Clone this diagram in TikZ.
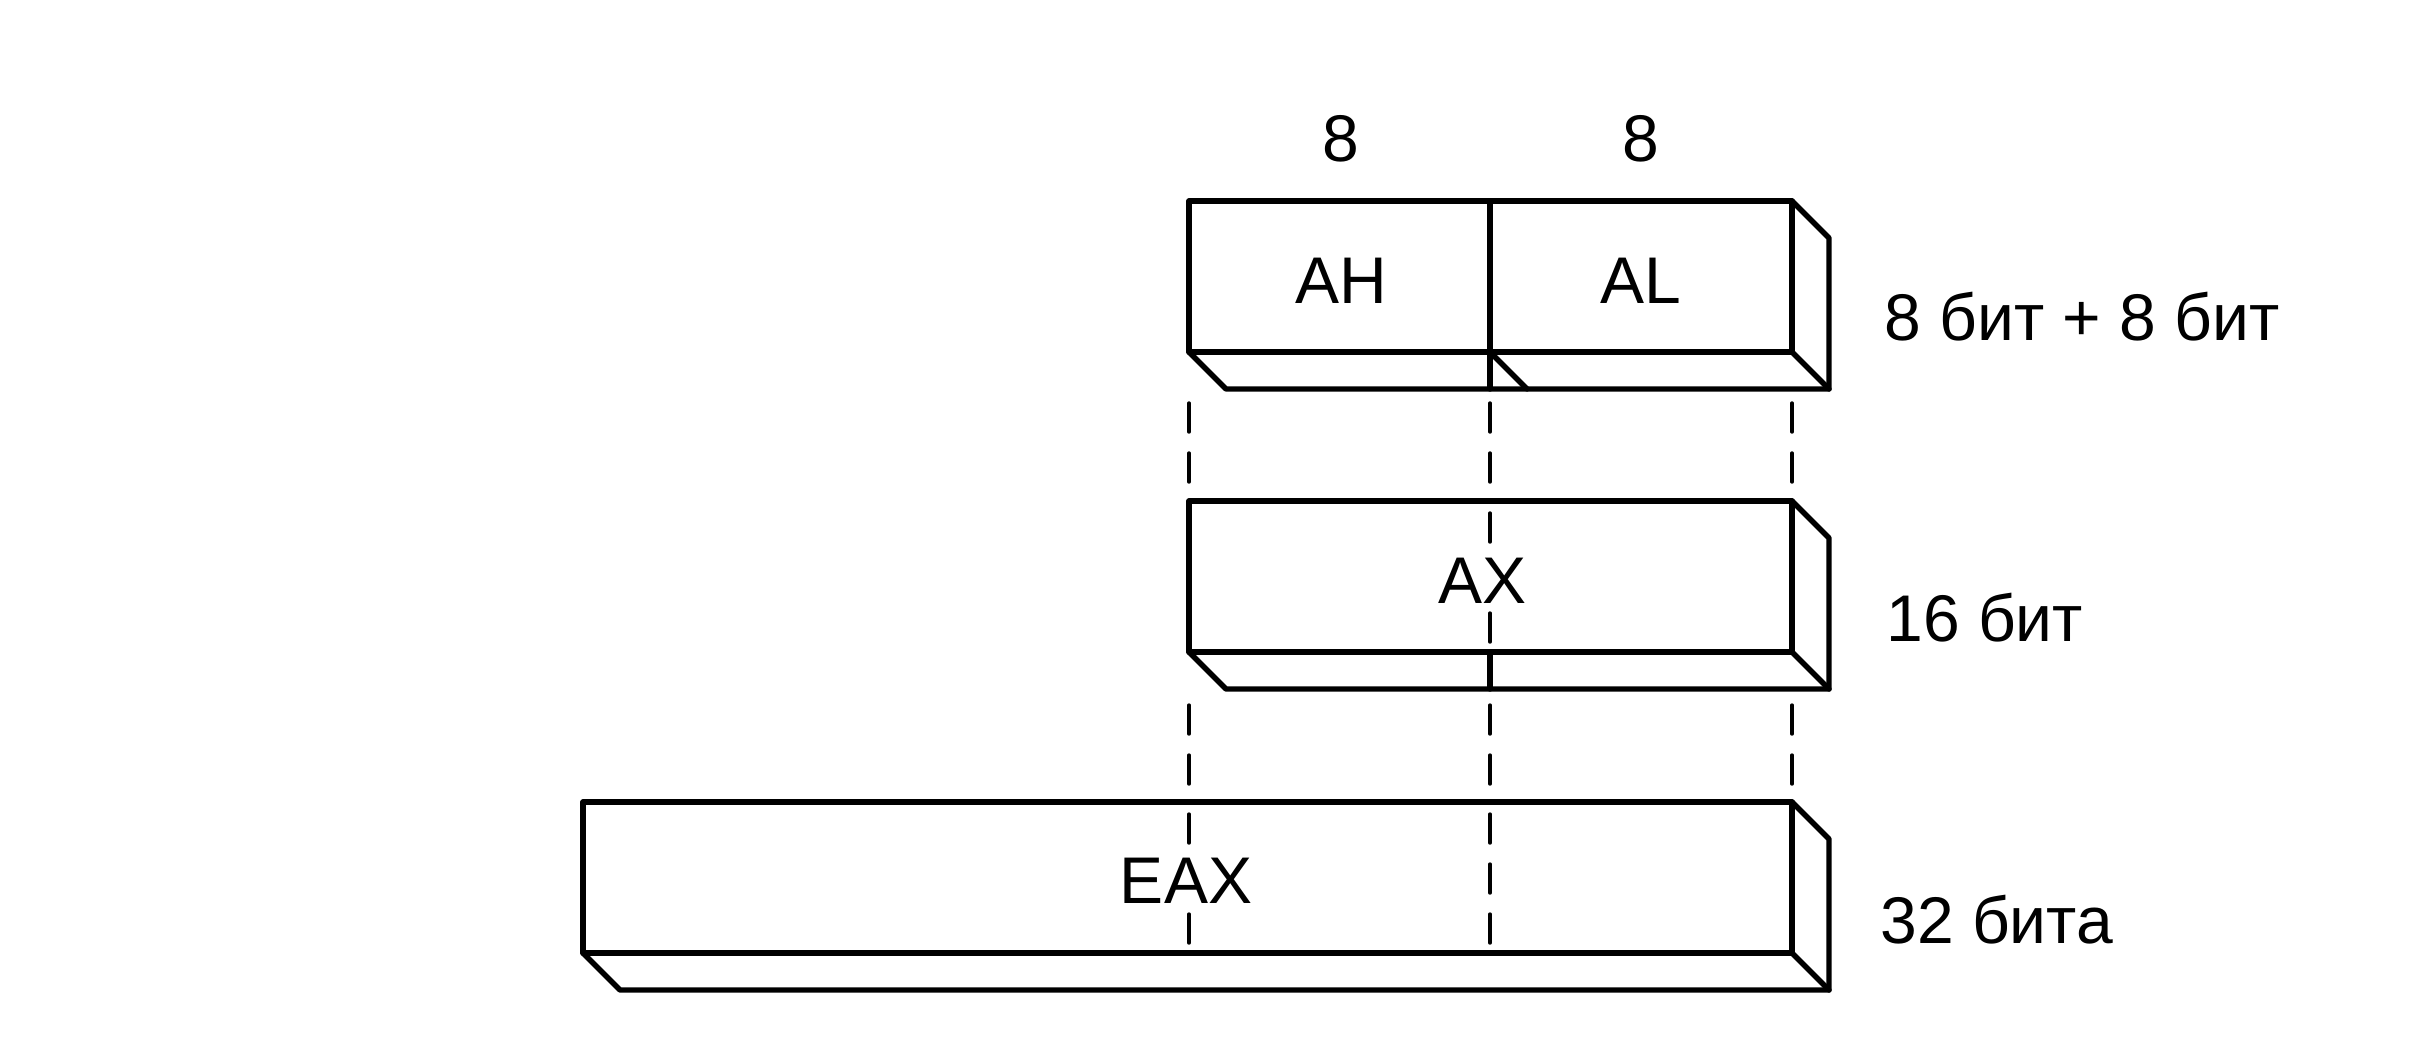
\documentclass[tikz,border=0pt]{standalone}
\usepackage{fontspec}
\setmainfont{Liberation Sans}
\usetikzlibrary{calc}
\tikzset{
  edge/.style={line width=2.7pt, line join=round, line cap=round},
  guide/.style={line width=1.7pt, line cap=round, dash pattern=on 14.5pt off 10.5pt},
  lbl/.style={font=\fontsize{33}{40}\selectfont, inner sep=0pt},
}
\newcommand\regbox[4]{%
  \draw[edge] (#1,#2) rectangle (#3,#4);
  \draw[edge] (#3,#2) -- ++(37,37) -- ++(0,#4-#2) -- ($(#1,#4)+(37,37)$) -- (#1,#4);
  \draw[edge] (#3,#4) -- ++(37,37);
}
\begin{document}
\begin{tikzpicture}[x=0.5pt,y=-0.5pt]
\useasboundingbox (0,0) rectangle (2418,1056);
\fill[white] (0,0) rectangle (2418,1056);
% boxes
\regbox{1189}{201}{1792}{352}
\regbox{1189}{501}{1792}{652}
\regbox{583}{802}{1792}{953}
% AH/AL divider
\draw[edge] (1490,201) -- (1490,389);
\draw[edge] (1490,352) -- (1527,389);
% AX strip divider
\draw[edge] (1490,652) -- (1490,689);
% coordinates for guides
\foreach \x/\n in {1189/a,1490/b,1792/c}{
  \coordinate (t1\n) at (\x,389);
  \coordinate (t2\n) at (\x,501);
  \coordinate (b2\n) at (\x,691);
  \coordinate (t3\n) at (\x,802);
}
\foreach \n in {a,b,c}{
  \draw[guide, dash phase=18pt] (t1\n) -- (t2\n);
  \draw[guide, dash phase=18pt] (b2\n) -- (t3\n);
}
\coordinate (axt) at (1490,501);
\coordinate (axb) at (1490,652);
\draw[guide, dash phase=19pt] (axt) -- (axb);
\coordinate (e1t) at (1189,802);
\coordinate (e1b) at (1189,953);
\coordinate (e2t) at (1490,802);
\coordinate (e2b) at (1490,953);
\draw[guide, dash phase=19pt] (e1t) -- (e1b);
\draw[guide, dash phase=19pt] (e2t) -- (e2b);
% texts
\node[lbl] (n8a) at (1341,139) {8};
\node[lbl] (n8b) at (1641,139) {8};
\node[lbl] (ah) at (1341,281) {AH};
\node[lbl] (al) at (1641,281) {AL};
\node[lbl, fill=white] (ax) at (1482,581) {AX};
\node[lbl, fill=white, inner sep=3pt] (eax) at (1186,881) {EAX};
\node[lbl, anchor=base west] (w1) at (1884,340) {8 бит + 8 бит};
\node[lbl, anchor=base west] (w2) at (1886,641) {16 бит};
\node[lbl, anchor=base west] (w3) at (1880,943) {32 бита};
\end{tikzpicture}
\end{document}
